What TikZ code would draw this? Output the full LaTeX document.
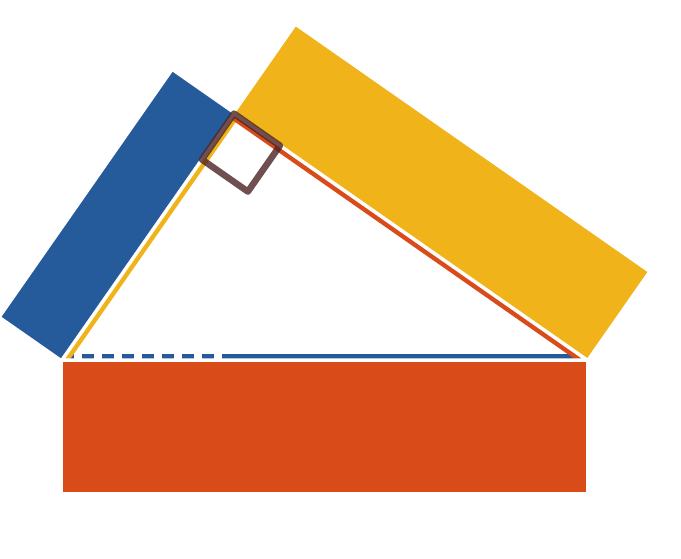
\documentclass[tikz,border=0pt]{standalone}
\usetikzlibrary{calc}
\definecolor{legblue}{RGB}{37,90,155}
\definecolor{legyellow}{RGB}{241,179,26}
\definecolor{hypred}{RGB}{217,75,24}
\definecolor{markbrown}{RGB}{75,35,35}
\tikzstyle{slab} = [draw=white, line width=1.5pt]
\tikzstyle{band} = [line width=12.5pt]
\tikzstyle{rightmark} = [draw=markbrown, opacity=0.8, line width=6.5pt, line join=round, line cap=round]

\begin{document}
\begin{tikzpicture}[x=1pt, y=-1pt]
\useasboundingbox (0,0) rectangle (681,558);

% corners of the triangle, D is the foot of the altitude
\coordinate (A) at (62,360);
\coordinate (B) at (587,360);
\coordinate (C) at (234,113.6);
\coordinate (D) at (234,360);

% one slab on each side, a quarter of the side deep
\filldraw[slab, fill=legblue] (A) -- (C) -- ($(C)!0.25!-90:(A)$) -- ($(A)!0.25!90:(C)$) -- cycle;
\filldraw[slab, fill=legyellow] (C) -- (B) -- ($(B)!0.25!-90:(C)$) -- ($(C)!0.25!90:(B)$) -- cycle;
\filldraw[slab, fill=hypred] (A) -- (B) -- ($(B)!0.253!90:(A)$) -- ($(A)!0.253!-90:(B)$) -- cycle;

% coloured lines inside the triangle
\begin{scope}
\clip (A) -- (B) -- (C) -- cycle;
\draw[band, legblue, dash pattern=on 12pt off 8pt] (A) -- (D);
\draw[band, legblue] (D) -- (B);
\draw[band, legyellow] (A) -- (C);
\draw[band, hypred] (C) -- (B);
\end{scope}
\draw[white, line width=3.5pt] (A) -- (B) -- (C) -- cycle;

% right angle at C
\draw[rightmark] (C) -- ($(C)!56pt!(B)$) -- ($(C)!56pt!(B)+(C)!56pt!(A)-(C)$) -- ($(C)!56pt!(A)$) -- cycle;

\end{tikzpicture}
\end{document}
